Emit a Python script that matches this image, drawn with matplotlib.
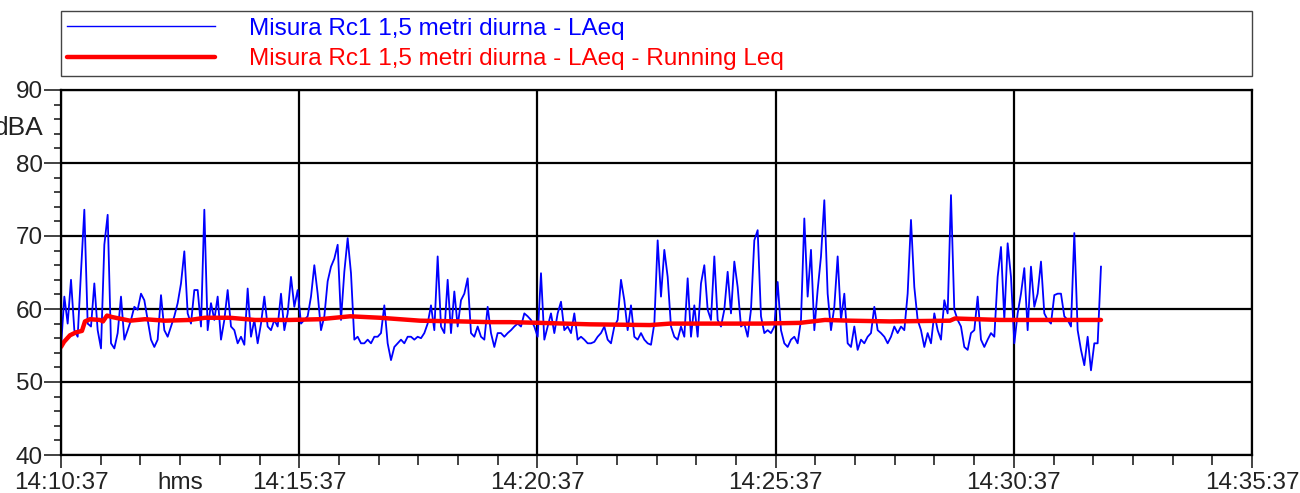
import numpy as np
import matplotlib
matplotlib.use("Agg")
import matplotlib.pyplot as plt
from matplotlib.ticker import MultipleLocator

plt.rcParams['font.family'] = ['Liberation Sans', 'DejaVu Sans']

# ---------------- data ----------------
series_label = "Misura Rc1 1,5 metri diurna - LAeq"
running_label = "Misura Rc1 1,5 metri diurna - LAeq - Running Leq"
x_tick_seconds = [0, 300, 600, 900, 1200, 1500]
x_tick_labels = ["14:10:37", "14:15:37", "14:20:37", "14:25:37", "14:30:37", "14:35:37"]
x_unit = "hms"
y_unit = "dBA"

# LAeq samples (dB), one every ~4.2 s from 14:10:37
laeq = [
    54.8, 61.7, 58.0, 64.0, 57.1, 56.2, 65.1, 73.6, 58.0, 57.6, 63.5, 57.1, 54.6, 68.8, 72.9, 55.3,
    54.6, 56.7, 61.7, 55.8, 57.1, 58.5, 60.3, 59.9, 62.1, 61.2, 58.5, 55.8, 54.8, 55.8, 61.9, 57.1,
    56.2, 57.6, 59.0, 60.8, 63.5, 67.9, 59.4,
    58.0, 62.6, 62.6, 57.6, 73.6, 57.1, 60.8, 58.5, 61.7, 55.8, 58.5, 62.6, 57.6, 57.1, 55.3, 56.2,
    55.1, 62.8, 56.2, 58.5, 55.3, 58.0, 61.7, 57.6, 57.1, 58.5, 57.6, 62.1, 57.1, 59.4, 64.4, 60.3,
    62.6, 58.0, 58.5, 59.0, 61.7, 66.0, 62.1,
    57.1, 59.0, 63.8, 65.8, 66.9, 68.8, 58.5, 65.1, 69.7, 64.9, 55.8, 56.2, 55.3, 55.3, 55.8, 55.3,
    56.2, 56.2, 56.7, 60.5, 55.3, 53.0, 54.8, 55.3, 55.8, 55.3, 56.2, 56.2, 55.8, 56.2, 56.0, 56.7,
    58.0, 60.5, 57.1, 67.2, 57.6, 56.7, 64.0,
    56.7, 62.4, 57.6, 61.2, 62.1, 64.2, 56.7, 56.2, 57.6, 56.2, 55.8, 60.3, 56.7, 54.8, 56.7, 56.7,
    56.2, 56.7, 57.1, 57.6, 58.0, 57.6, 59.4, 59.0, 58.5, 57.6, 56.2, 64.9, 55.8, 57.6, 59.4, 56.7,
    59.4, 61.0, 57.1, 57.6, 56.7, 59.4, 55.8,
    56.2, 55.8, 55.3, 55.3, 55.5, 56.2, 56.7, 57.6, 55.8, 55.3, 57.6, 58.5, 64.0, 61.2, 57.1, 60.5,
    56.2, 55.8, 56.7, 55.8, 55.3, 55.1, 58.0, 69.4, 61.7, 68.1, 64.4, 57.6, 56.2, 55.8, 57.6, 56.2,
    64.2, 56.2, 60.5, 56.2, 63.5, 66.0, 59.9,
    58.5, 67.2, 58.5, 57.6, 59.9, 65.1, 59.4, 66.5, 63.0, 57.6, 58.0, 56.2, 59.9, 69.4, 70.8, 59.0,
    56.7, 57.1, 56.7, 57.6, 63.7, 57.1, 55.3, 54.8, 55.8, 56.2, 55.3, 58.5, 72.4, 61.7, 68.1, 57.1,
    62.6, 67.2, 74.9, 62.1, 57.1, 60.3, 67.2,
    58.5, 62.1, 55.3, 54.8, 57.6, 54.4, 55.8, 55.3, 56.2, 56.7, 60.3, 57.1, 56.7, 56.2, 55.3, 56.2,
    57.6, 56.7, 57.6, 57.1, 62.1, 72.2, 63.0, 58.5, 57.1, 54.8, 56.7, 55.3, 59.4, 57.1, 55.8, 61.2,
    59.4, 75.6, 59.9, 58.5, 57.6, 54.8, 54.4,
    56.7, 57.1, 61.7, 55.8, 54.8, 55.8, 56.7, 56.2, 64.4, 68.5, 58.5, 69.0, 64.4, 55.3, 59.4, 62.1,
    65.6, 57.1, 65.8, 60.3, 62.1, 66.5, 59.4, 58.5, 58.0, 61.9, 62.1, 62.1, 59.0, 58.5, 57.6, 70.4,
    57.1, 54.4, 52.3, 56.2, 51.6, 55.3, 55.3, 65.8,
]
sample_step = 1309.8 / (len(laeq) - 1)
laeq_t = np.arange(len(laeq)) * sample_step

# Running Leq (dB) at read-off times (s)
run_t = [0, 3.8, 11.3, 18.9, 26.4, 30.2, 36.5, 49.1, 52.9, 57.9, 64.2, 86.9, 105.8, 131, 162.5,
         181.4, 212.8, 244.3, 288.4, 326.2, 364, 401.8, 452.1, 502.5, 540.3, 565.5, 603.3, 666.2,
         741.8, 767, 830, 880.4, 930.7, 962.2, 993.7, 1044, 1119.6, 1125.9, 1182.6, 1309.8]
run_v = [54.8, 55.5, 56.4, 56.8, 57.0, 58.3, 58.6, 58.5, 58.3, 59.1, 58.9, 58.4, 58.6, 58.4, 58.5,
         58.8, 58.8, 58.5, 58.5, 58.6, 59.0, 58.8, 58.4, 58.3, 58.2, 58.2, 58.1, 57.9, 57.8, 58.0,
         58.0, 58.0, 58.1, 58.5, 58.4, 58.3, 58.4, 58.7, 58.5, 58.5]

# ---------------- figure ----------------
W, H = 1300, 493
fig = plt.figure(figsize=(W / 100, H / 100), dpi=100)
ax = fig.add_axes([61 / W, 1 - 455 / H, (1252 - 61) / W, (455 - 90) / H])

l1, = ax.plot(laeq_t, laeq, color='#0000ff', lw=1.3, label=series_label)
l2, = ax.plot(run_t, run_v, color='#ff0000', lw=3.2, label=running_label,
              solid_capstyle='round')

ax.set_xlim(0, 1500)
ax.set_ylim(40, 90)
ax.set_xticks(x_tick_seconds)
ax.set_xticklabels(x_tick_labels)
ax.xaxis.set_minor_locator(MultipleLocator(50))
ax.yaxis.set_major_locator(MultipleLocator(10))
ax.yaxis.set_minor_locator(MultipleLocator(2))
ax.grid(which='major', color='black', lw=1.6)
ax.set_axisbelow(True)
for s in ax.spines.values():
    s.set_linewidth(1.6)
ax.tick_params(axis='both', which='both', direction='out', colors='#222222', labelsize=17.5)
ax.tick_params(axis='y', which='major', length=12, width=1.2, pad=1)
ax.tick_params(axis='y', which='minor', length=5, width=1.2)
ax.tick_params(axis='x', which='major', length=9, width=1.2, pad=3)
ax.tick_params(axis='x', which='minor', length=7, width=1.2)

fig.text(44 / W, 1 - 128 / H, y_unit, ha='right', va='center', fontsize=19, color='#222222')
fig.text(180 / W, 1 - 483 / H, x_unit, ha='center', va='center', fontsize=17.5, color='#222222')

leg = ax.legend(handles=[l1, l2], bbox_to_anchor=(0, 1.038, 1, 0.184), loc='lower left',
                mode='expand', borderaxespad=0, fontsize=17.5, labelcolor='linecolor',
                handlelength=6.1, handletextpad=1.4, borderpad=0.25, labelspacing=0.35,
                fancybox=False, framealpha=1, edgecolor='#444444')
leg.get_frame().set_linewidth(1.0)
leg.get_lines()[0].set_linewidth(1.0)

fig.savefig('out.png', dpi=100)
